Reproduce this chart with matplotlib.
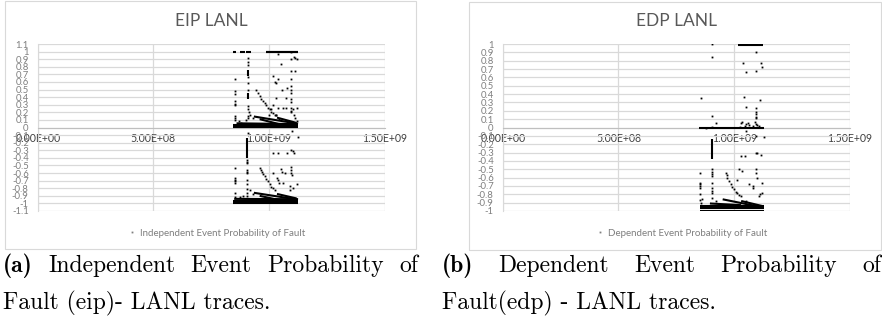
import matplotlib
matplotlib.use("Agg")
import matplotlib.pyplot as plt
from matplotlib.patches import Rectangle
from matplotlib.lines import Line2D
from matplotlib.ticker import MultipleLocator, FuncFormatter

# x values are in units of 1e8 (time), y values are probabilities
titles = ["EIP LANL", "EDP LANL"]
legend_labels = ["Independent Event Probability of Fault",
                 "Dependent Event Probability of Fault"]
x_ticks = [0, 5e8, 1e9, 1.5e9]
x_tick_labels = ["0.00E+00", "5.00E+08", "1.00E+09", "1.50E+09"]

# --- EIP: isolated points
eip_x = [9.08, 9.08, 9.08, 9.08, 9.08, 9.08, 9.08, 9.08, 9.08, 9.08,
         8.52, 8.52, 8.52, 8.52, 8.52, 8.52, 8.52, 8.52, 8.52,
         10.97, 10.97, 10.97, 10.97, 10.97, 10.97, 10.97, 10.97, 10.97, 10.97, 10.97, 10.97, 10.97,
         11.1, 11.15, 11.2, 11.12, 11.2, 11.1, 11.05, 11.15, 11.2,
         10.17, 10.39, 10.54, 10.58, 10.32, 10.75, 10.17, 10.39, 10.6, 10.75, 10.1, 10.0,
         10.32, 10.45, 10.39, 10.25, 10.3, 10.8, 9.3, 9.2, 9.15, 8.7, 8.8, 9.0,
         9.46, 9.52, 9.6, 9.67, 9.75, 9.82, 9.89, 9.96, 10.03, 10.1, 10.18, 10.25, 10.3,
         11.0, 11.25, 9.08, 9.06, 9.06,
         9.05, 9.05, 9.05, 9.05, 9.05, 9.05, 9.05, 9.05, 9.05,
         8.55, 8.55, 8.55, 8.55, 8.55, 8.55, 8.55,
         9.6, 9.64, 9.68, 9.75, 9.82, 9.89, 9.96, 10.03, 10.1, 10.18, 10.25,
         10.17, 10.4, 10.8, 10.97, 11.05, 11.1, 10.54, 10.58, 10.17, 10.68, 10.95, 10.95,
         10.95, 11.0, 10.39, 10.42, 10.6, 10.9, 10.9, 11.05, 11.2, 10.35, 9.2, 9.3, 8.75, 8.9]
eip_y = [0.92, 0.86, 0.82, 0.66, 0.59, 0.50, 0.28, 0.24, 0.15, 0.12,
         0.64, 0.48, 0.44, 0.35, 0.31, 0.29, 0.15, 0.12, 0.10,
         0.99, 0.90, 0.75, 0.64, 0.55, 0.50, 0.45, 0.37, 0.33, 0.26, 0.22, 0.20, 0.07,
         0.93, 0.91, 0.90, 0.75, 0.26, 0.17, 0.24, 0.12, 0.08,
         0.68, 0.64, 0.83, 0.50, 0.39, 0.39, 0.30, 0.26, 0.26, 0.26, 0.24, 0.17,
         0.17, 0.11, 0.97, 0.60, 0.58, 0.52, 0.12, 0.16, 0.20, 0.08, 0.06, 0.10,
         0.50, 0.46, 0.41, 0.38, 0.35, 0.32, 0.29, 0.26, 0.24, 0.21, 0.19, 0.17, 0.16,
         -0.05, -0.12, -0.07, -0.45, -0.43,
         -0.47, -0.56, -0.58, -0.60, -0.69, -0.75, -0.81, -0.86, -0.90,
         -0.53, -0.66, -0.69, -0.71, -0.73, -0.86, -0.92,
         -0.53, -0.555, -0.58, -0.61, -0.64, -0.675, -0.71, -0.745, -0.78, -0.80, -0.82,
         -0.34, -0.34, -0.34, -0.29, -0.31, -0.33, -0.55, -0.59, -0.60, -0.60, -0.52, -0.56,
         -0.60, -0.62, -0.69, -0.73, -0.73, -0.77, -0.82, -0.80, -0.75, -0.66, -0.82, -0.88, -0.92, -0.90]
# --- EIP: dense runs of points (x0, x1, y0, y1)
eip_runs = [(8.45, 8.58, 1.0, 1.0), (8.74, 8.96, 1.0, 1.0), (9.03, 9.24, 1.0, 1.0),
            (9.86, 11.26, 1.0, 1.0), (9.86, 11.26, 0.99, 0.99),
            (9.08, 9.08, 0.68, 0.76), (9.08, 9.08, 0.37, 0.46),
            (8.45, 11.26, 0.005, 0.005), (8.45, 11.26, 0.03, 0.03), (8.6, 11.26, 0.055, 0.045),
            (9.35, 11.26, 0.145, 0.05), (9.6, 10.5, 0.11, 0.04), (10.35, 11.2, 0.13, 0.06),
            (9.05, 9.05, -0.14, -0.40),
            (8.45, 11.26, -0.99, -0.99), (8.45, 11.26, -0.965, -0.965), (8.5, 11.26, -0.94, -0.945),
            (9.35, 11.26, -0.86, -0.95), (9.6, 10.5, -0.90, -0.96), (10.35, 11.2, -0.875, -0.935)]

# --- EDP: isolated points
edp_x = [9.06, 9.03, 10.93, 10.38, 10.52, 10.93, 11.14, 11.18, 8.56, 10.44, 11.1, 10.52,
         10.93, 10.93, 10.93, 10.96, 10.96, 9.03, 9.2, 10.3, 10.35, 10.5, 10.6, 10.65,
         10.9, 10.95, 11.0, 11.05, 10.45, 10.8, 11.3, 10.93, 10.5, 8.8, 9.05, 10.25,
         9.06, 9.06, 9.06, 9.06, 9.06, 9.06, 9.06, 9.06, 9.06,
         8.53, 8.53, 8.53, 8.53, 8.53, 8.53, 8.53,
         9.63, 9.67, 9.7, 9.78, 9.85, 9.92, 9.99, 10.06, 10.13, 10.2, 10.28,
         10.3, 10.45, 10.93, 10.98, 11.14, 10.22, 10.35, 10.95, 10.95, 10.98, 10.1,
         10.65, 10.8, 10.8, 11.2, 11.05, 11.2, 11.1, 10.5, 9.2, 8.6, 8.55]
edp_y = [1.0, 0.85, 0.91, 0.77, 0.67, 0.68, 0.77, 0.72, 0.35, 0.36, 0.33, 0.24,
         0.23, 0.19, 0.16, 0.13, 0.11, 0.14, 0.05, 0.05, 0.06, 0.04, 0.05, 0.03,
         0.06, 0.04, 0.03, 0.02, 0.02, 0.02, -0.11, -0.10, -0.04, 0.0, 0.01, 0.01,
         -0.50, -0.53, -0.56, -0.58, -0.66, -0.73, -0.76, -0.79, -0.85,
         -0.54, -0.66, -0.68, -0.70, -0.72, -0.80, -0.87,
         -0.54, -0.57, -0.60, -0.64, -0.68, -0.71, -0.74, -0.77, -0.79, -0.81, -0.82,
         -0.34, -0.34, -0.31, -0.30, -0.33, -0.50, -0.52, -0.50, -0.55, -0.60, -0.63,
         -0.68, -0.70, -0.73, -0.66, -0.82, -0.78, -0.80, -0.88, -0.88, -0.86, -0.90]
# --- EDP: dense runs of points (x0, x1, y0, y1)
edp_runs = [(10.18, 11.24, 1.0, 1.0), (10.18, 11.24, 0.993, 0.993),
            (8.49, 11.29, 0.0, 0.0),
            (9.05, 9.05, -0.14, -0.38),
            (8.5, 11.3, -0.995, -0.995), (8.5, 11.3, -0.97, -0.97), (8.5, 11.3, -0.945, -0.945),
            (9.5, 11.2, -0.86, -0.955), (8.95, 10.3, -0.91, -0.93), (10.3, 11.2, -0.88, -0.94)]

captions = [["(a)", "Independent", "Event", "Probability", "of"],
            ["(b)", "Dependent", "Event", "Probability", "of"]]
captions2 = ["Fault (eip)- LANL traces.", "Fault(edp) - LANL traces."]

W, H = 882, 323
fig = plt.figure(figsize=(W / 100, H / 100), dpi=100)

GRID = "#d9d9d9"
CAP_SIZE = 17


def yfmt(v, pos):
    v = round(v, 1)
    if v == 0:
        return "0"
    return f"{v:g}"


def draw_panel(rect, ylim, xs, ys, runs, title, label, frame):
    ax = fig.add_axes([rect[0] / W, 1 - rect[3] / H, (rect[2] - rect[0]) / W, (rect[3] - rect[1]) / H])
    ax.set_xlim(0, 1.5e9)
    ax.set_ylim(*ylim)
    ax.yaxis.set_major_locator(MultipleLocator(0.1))
    ax.yaxis.set_major_formatter(FuncFormatter(yfmt))
    ax.set_xticks(x_ticks)
    ax.set_xticklabels(x_tick_labels)
    ax.grid(True, color=GRID, lw=0.9)
    ax.set_axisbelow(True)
    for s in ["top", "right"]:
        ax.spines[s].set_visible(False)
    ax.spines["left"].set_color(GRID)
    ax.spines["bottom"].set_position(("data", 0))
    ax.spines["bottom"].set_color("#bfbfbf")
    ax.tick_params(axis="y", length=0, pad=6.5, labelsize=6.8, labelcolor="#7f7f7f")
    ax.tick_params(axis="x", length=0, pad=4.0, labelsize=7.6, labelcolor="#404040")
    for t in ax.get_xticklabels() + ax.get_yticklabels():
        t.set_fontfamily("Lato")

    for x0, x1, y0, y1 in runs:
        ax.plot([x0 * 1e8, x1 * 1e8], [y0, y1], color="black", lw=1.5,
                solid_capstyle="butt", zorder=3)
    ax.plot([x * 1e8 for x in xs], ys, "s", color="black", ms=1.3, mew=0, zorder=4)

    cx = (rect[0] + rect[2]) / 2
    fig.text(cx / W, 1 - 21 / H, title, ha="center", va="center",
             fontsize=12.5, color="#595959", family="Lato")
    h = Line2D([], [], marker="s", ls="none", color="#7f7f7f", ms=1.3, mew=0)
    fig.legend([h], [label], loc="center", bbox_to_anchor=((cx + 6) / W, 1 - 233 / H),
               frameon=False, handlelength=0.6, handletextpad=0.5,
               prop={"family": "Lato", "size": 7.0}, labelcolor="#7f7f7f")

    fx0, fy0, fx1, fy1 = frame
    fig.patches.append(Rectangle((fx0 / W, 1 - fy1 / H), (fx1 - fx0) / W, (fy1 - fy0) / H,
                                 transform=fig.transFigure, fill=False, ec=GRID, lw=0.8))
    return ax


draw_panel((37.7, 44, 384.5, 211), (-1.1, 1.1), eip_x, eip_y, eip_runs,
           titles[0], legend_labels[0], (5, 1, 416, 249))
draw_panel((502.7, 44, 850, 211), (-1.0, 1.0), edp_x, edp_y, edp_runs,
           titles[1], legend_labels[1], (469, 2, 881, 250))

# captions, first line justified across the column width
renderer = fig.canvas.get_renderer()


def justified(words, x0, x1, y):
    texts = []
    for i, w in enumerate(words):
        fam = "cmb10" if i == 0 else "cmr10"
        texts.append(fig.text(0, 1 - y / H, w, fontsize=CAP_SIZE, family=fam, va="baseline"))
    widths = [t.get_window_extent(renderer).width for t in texts]
    gap = ((x1 - x0) - sum(widths)) / (len(words) - 1)
    x = x0
    for t, wd in zip(texts, widths):
        t.set_x(x / W)
        x += wd + gap


justified(captions[0], 3, 418, 272)
justified(captions[1], 442, 881, 272)
fig.text(3 / W, 1 - 309 / H, captions2[0], fontsize=CAP_SIZE, family="cmr10", va="baseline")
fig.text(442 / W, 1 - 309 / H, captions2[1], fontsize=CAP_SIZE, family="cmr10", va="baseline")

fig.savefig("out.png", dpi=100)
